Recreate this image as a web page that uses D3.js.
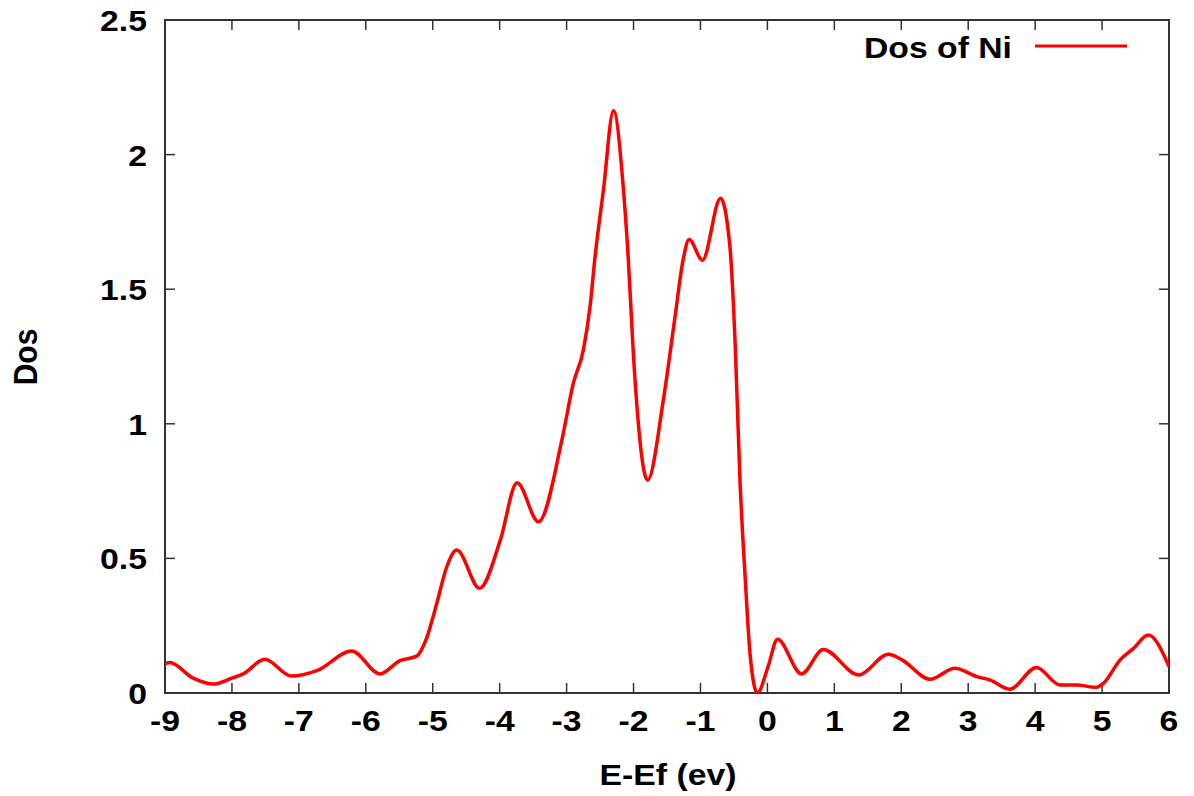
<!DOCTYPE html>
<html>
<head>
<meta charset="utf-8">
<script src="https://cdn.jsdelivr.net/npm/d3@7"></script>
<style>
  html, body { margin: 0; padding: 0; background: #fff; }
  svg { display: block; }
  text { font-family: "Liberation Sans", Arial, Helvetica, sans-serif; font-weight: bold; fill: #000; }
</style>
</head>
<body>
<svg id="chart" width="1194" height="796"></svg>
<script>
// ---- data ----
const energy = [-9.0, -8.93, -8.58, -8.28, -8.0, -7.83, -7.51, -7.11, -6.73, -6.21, -5.79, -5.49, -5.24, -5.09, -4.94, -4.79, -4.64, -4.30, -3.99, -3.74, -3.42, -3.07, -2.90, -2.75, -2.65, -2.575, -2.45, -2.30, -2.15, -2.08, -2.0, -1.79, -1.555, -1.38, -1.26, -1.17, -0.97, -0.70, -0.56, -0.48, -0.41, -0.33, -0.26, -0.15, 0.01, 0.15, 0.51, 0.835, 1.36, 1.81, 2.01, 2.43, 2.80, 3.13, 3.33, 3.62, 4.02, 4.37, 4.62, 4.90, 5.02, 5.27, 5.47, 5.69, 6.0];
const dos = [0.108, 0.113, 0.055, 0.033, 0.055, 0.071, 0.125, 0.063, 0.083, 0.156, 0.071, 0.12, 0.137, 0.205, 0.333, 0.469, 0.531, 0.389, 0.568, 0.781, 0.636, 0.94, 1.15, 1.274, 1.435, 1.62, 1.868, 2.163, 1.868, 1.62, 1.249, 0.791, 1.088, 1.398, 1.608, 1.685, 1.608, 1.838, 1.658, 1.286, 0.791, 0.42, 0.147, 0.0, 0.098, 0.200, 0.071, 0.162, 0.067, 0.144, 0.123, 0.051, 0.092, 0.061, 0.048, 0.014, 0.095, 0.030, 0.030, 0.021, 0.036, 0.123, 0.166, 0.215, 0.098];
const xTicks = [-9, -8, -7, -6, -5, -4, -3, -2, -1, 0, 1, 2, 3, 4, 5, 6];
const yTicks = [0, 0.5, 1, 1.5, 2, 2.5];
const seriesName = "Dos of Ni";
const xTitle = "E-Ef (ev)";
const yTitle = "Dos";

// ---- layout ----
const svg = d3.select("#chart");
const L = 165, R = 1169, T = 20, B = 693;
const SX = 1.125; // horizontal stretch of glyphs
const x = d3.scaleLinear().domain([-9, 6]).range([L, R]);
const y = d3.scaleLinear().domain([0, 2.5]).range([B, T]);
const axisColor = "#333";

svg.append("defs").append("clipPath").attr("id", "clip")
  .append("rect").attr("x", L).attr("y", T).attr("width", R - L).attr("height", B - T);

function stretchedText(g, tx, ty, str, anchor, rotate) {
  return g.append("text")
    .attr("transform", `translate(${tx},${ty}) scale(${SX},1)` + (rotate ? ` rotate(${rotate})` : ""))
    .attr("text-anchor", anchor)
    .attr("font-size", 30)
    .text(str);
}

// ticks (inward on all four sides)
const tickLen = 10;
const g = svg.append("g");
xTicks.forEach(v => {
  g.append("line").attr("x1", x(v)).attr("x2", x(v)).attr("y1", B).attr("y2", B - tickLen)
    .attr("stroke", axisColor).attr("stroke-width", 1.5);
  g.append("line").attr("x1", x(v)).attr("x2", x(v)).attr("y1", T).attr("y2", T + tickLen)
    .attr("stroke", axisColor).attr("stroke-width", 1.5);
  stretchedText(g, x(v), 731, String(v), "middle");
});
yTicks.forEach(v => {
  g.append("line").attr("x1", L).attr("x2", L + tickLen).attr("y1", y(v)).attr("y2", y(v))
    .attr("stroke", axisColor).attr("stroke-width", 1.5);
  g.append("line").attr("x1", R).attr("x2", R - tickLen).attr("y1", y(v)).attr("y2", y(v))
    .attr("stroke", axisColor).attr("stroke-width", 1.5);
  stretchedText(g, 147, y(v) + 11, String(v), "end");
});

// frame
svg.append("rect").attr("x", L).attr("y", T).attr("width", R - L).attr("height", B - T)
  .attr("fill", "none").attr("stroke", axisColor).attr("stroke-width", 2);

// curve
const pts = energy.map((e, i) => [e, dos[i]]);
const line = d3.line().x(d => x(d[0])).y(d => y(d[1])).curve(d3.curveMonotoneX);
svg.append("path").datum(pts).attr("d", line)
  .attr("clip-path", "url(#clip)")
  .attr("fill", "none").attr("stroke", "#ff0000").attr("stroke-width", 3.5)
  .attr("stroke-linejoin", "round");

// axis titles
stretchedText(svg, 668, 785, xTitle, "middle");
stretchedText(svg, 37, 357, yTitle, "middle", -90);

// legend
stretchedText(svg, 1012, 58, seriesName, "end");
svg.append("line").attr("x1", 1035).attr("x2", 1127).attr("y1", 46).attr("y2", 46)
  .attr("stroke", "#ff0000").attr("stroke-width", 3);
</script>
</body>
</html>
